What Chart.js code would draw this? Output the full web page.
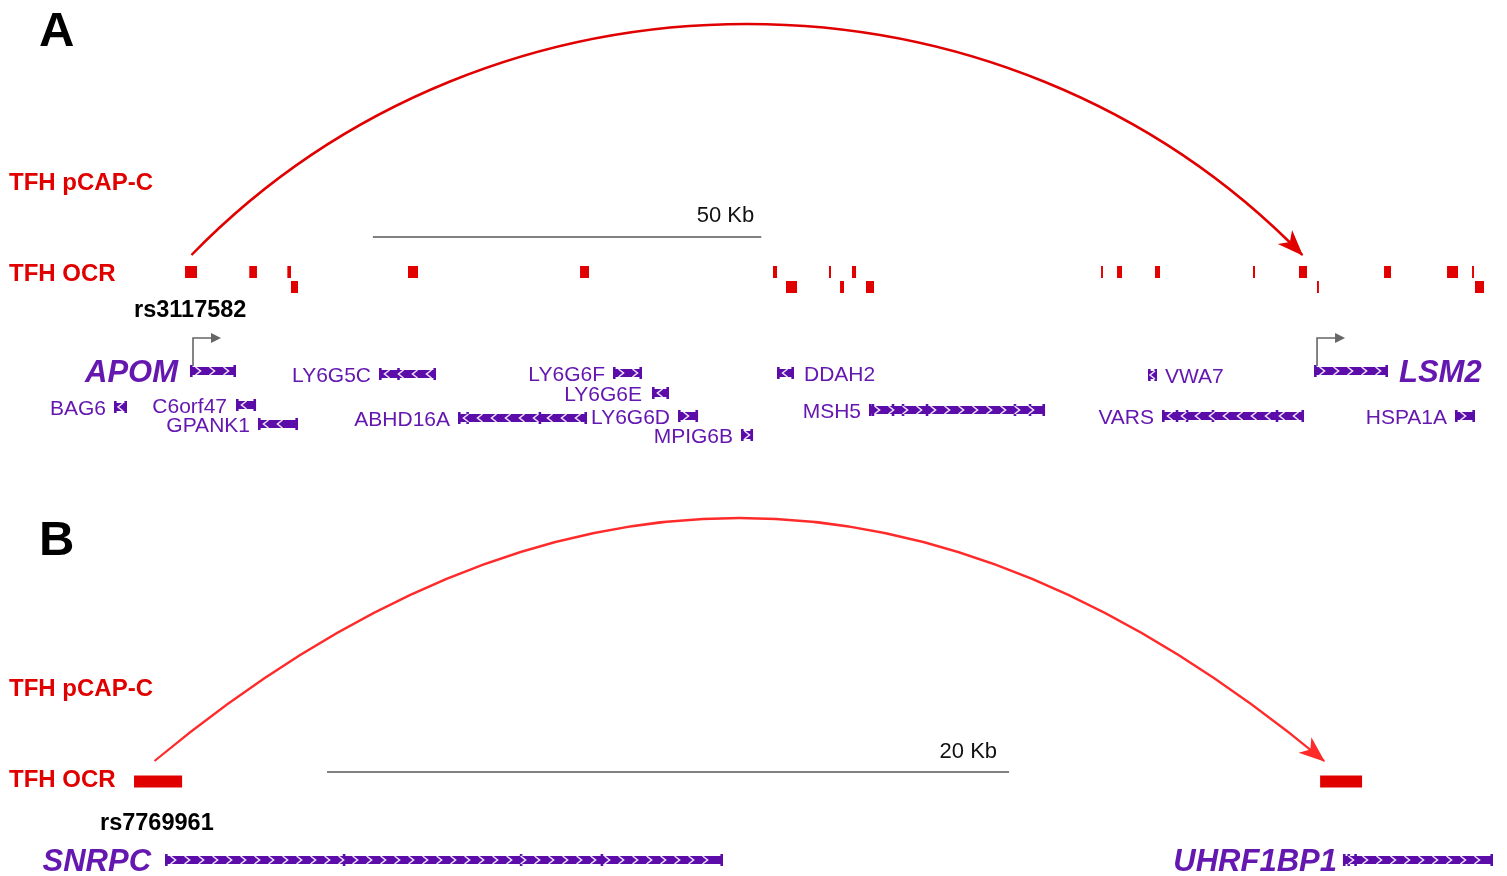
<!DOCTYPE html>
<html>
<head>
<meta charset="utf-8">
<title>TFH pCAP-C loops</title>
<script src="https://cdn.jsdelivr.net/npm/chart.js@4/dist/chart.umd.min.js"></script>
<style>
  html, body { margin: 0; padding: 0; background: #ffffff; }
  #wrap { position: relative; width: 1507px; height: 876px; overflow: hidden; }
  canvas { position: absolute; left: 0; display: block; }
</style>
</head>
<body>
<div id="wrap">
  <canvas id="panelA" width="1507" height="470" style="top:0px"></canvas>
  <canvas id="panelB" width="1507" height="406" style="top:470px"></canvas>
</div>
<script>
// ---------------- Panel A: APOM → LSM2 (positions in kb from left edge of view) ----------------
const viewKbA = 194.0;

const ocrStartA = [23.82, 32.09, 36.99, 52.52, 74.67, 99.51, 106.72, 109.68, 141.74, 143.80, 148.69, 161.30, 167.22, 178.17, 186.28, 189.50,
                   37.46, 101.18, 108.14, 111.48, 169.54, 189.88];
const ocrEndA   = [25.36, 33.08, 37.46, 53.81, 75.82, 100.03, 106.98, 110.20, 141.99, 144.44, 149.33, 161.56, 168.25, 179.07, 187.69, 189.75,
                   38.36, 102.60, 108.65, 112.51, 169.79, 191.04];
const ocrLaneA  = [0, 0, 0, 0, 0, 0, 0, 0, 0, 0, 0, 0, 0, 0, 0, 0,
                   1, 1, 1, 1, 1, 1];

const geneNamesA  = ['BAG6', 'APOM', 'C6orf47', 'GPANK1', 'LY6G5C', 'ABHD16A', 'LY6G6F', 'LY6G6E',
                     'LY6G6D', 'MPIG6B', 'DDAH2', 'MSH5', 'VWA7', 'VARS', 'LSM2', 'HSPA1A'];
const geneStartA  = [14.68, 24.46, 30.38, 33.21, 48.79, 58.96, 78.91, 83.93, 87.28, 95.39, 100.03, 111.87, 147.79, 149.59, 169.16, 187.31];
const geneEndA    = [16.35, 30.38, 32.96, 38.36, 56.13, 75.57, 82.65, 86.12, 89.86, 96.94, 102.21, 134.53, 148.94, 167.87, 178.68, 189.88];
const geneStrandA = ['-', '+', '-', '-', '-', '-', '+', '-', '+', '+', '-', '+', '-', '-', '+', '+'];

const exonGeneA = ['MSH5', 'MSH5', 'MSH5', 'MSH5', 'MSH5', 'MSH5', 'VARS', 'VARS', 'VARS', 'VARS', 'ABHD16A', 'ABHD16A', 'LY6G5C'];
const exonPosA  = [112.38, 114.96, 116.25, 119.34, 130.66, 132.60, 151.52, 152.81, 156.15, 164.39, 60.2, 69.5, 51.3];

const loopFromA = [24.65];
const loopToA   = [167.66];
const loopGenesA = ['APOM', 'LSM2'];
const snpA = 'rs3117582';
const scaleStartA = 48.0, scaleKbA = 50;

// ---------------- Panel B: SNRPC → UHRF1BP1 ----------------
const viewKbB = 44.19;

const ocrStartB = [3.93, 38.71];
const ocrEndB   = [5.34, 39.94];
const ocrLaneB  = [0, 0];

const geneNamesB  = ['SNRPC', 'UHRF1BP1'];
const geneStartB  = [4.84, 39.38];
const geneEndB    = [21.20, 43.78];
const geneStrandB = ['+', '+'];

const exonGeneB = ['SNRPC', 'SNRPC', 'SNRPC', 'UHRF1BP1', 'UHRF1BP1'];
const exonPosB  = [10.09, 15.28, 17.65, 39.55, 39.75];

const loopFromB = [4.53];
const loopToB   = [38.83];
const loopGenesB = ['SNRPC', 'UHRF1BP1'];
const snpB = 'rs7769961';
const scaleStartB = 9.59, scaleKbB = 20;

// ---------------- drawing styles / page layout ----------------
const FONT = "'Liberation Sans', Arial, Helvetica, sans-serif";
const PURPLE = '#5c0ca8';
const LABEL_PURPLE = '#6518b0';
const RED = '#e10000';

const layoutA = {
  yMin: 0, yMax: 470,
  letter: { text: 'A', x: 39, y: 46 },
  trackLabels: [{ text: 'TFH pCAP-C', y: 189.5 }, { text: 'TFH OCR', y: 280.5 }],
  snp: { x: 134, y: 316.5 },
  ocrLaneY: [272, 287],
  arc: { base: 255, rise: 231, bend: 0.27, color: '#e10000', width: 2.5 },
  scaleBarY: 237, scaleLabelY: 221.5, scaleLabelGap: 7,
  geneY: { BAG6: 407, APOM: 371, C6orf47: 405, GPANK1: 424, LY6G5C: 374, ABHD16A: 418, LY6G6F: 373, LY6G6E: 393,
           LY6G6D: 416, MPIG6B: 435, DDAH2: 373, MSH5: 410, VWA7: 375, VARS: 416, LSM2: 371, HSPA1A: 416 },
  labelRight: ['DDAH2', 'VWA7', 'LSM2'],
  labelGap: { APOM: 12, LSM2: 11, DDAH2: 10, C6orf47: 9, LY6G6E: 10 },
  tss: true
};

const layoutB = {
  yMin: 470, yMax: 876,
  letter: { text: 'B', x: 39, y: 555 },
  trackLabels: [{ text: 'TFH pCAP-C', y: 695.5 }, { text: 'TFH OCR', y: 786.5 }],
  snp: { x: 100, y: 829.5 },
  ocrLaneY: [781.5],
  arc: { base: 761, rise: 243, bend: 1 / 3, color: '#ff2a2a', width: 2.2 },
  scaleBarY: 772, scaleLabelY: 757.5, scaleLabelGap: 12,
  geneY: { SNRPC: 860, UHRF1BP1: 860 },
  labelRight: [],
  labelGap: { SNRPC: 14, UHRF1BP1: 6 },
  tss: false
};

// Loop arc from anchor to anchor with an arrowhead at the target end
function drawLoop(ctx, x0, x3, a) {
  const span = x3 - x0;
  const h = a.rise / 0.75;
  const c1x = x0 + a.bend * span, c2x = x3 - a.bend * span, cy = a.base - h;
  ctx.save();
  ctx.strokeStyle = a.color;
  ctx.fillStyle = a.color;
  ctx.lineWidth = a.width;
  ctx.lineCap = 'butt';
  ctx.beginPath();
  ctx.moveTo(x0, a.base);
  ctx.bezierCurveTo(c1x, cy, c2x, cy, x3, a.base);
  ctx.stroke();
  const ang = Math.atan2(a.base - cy, x3 - c2x);
  ctx.translate(x3, a.base);
  ctx.rotate(ang);
  ctx.beginPath();
  ctx.moveTo(1, 0);
  ctx.lineTo(-25, -10);
  ctx.lineTo(-18, 0);
  ctx.lineTo(-25, 10);
  ctx.closePath();
  ctx.fill();
  ctx.restore();
}

// Strand chevrons inside a gene body
function drawChevrons(ctx, a, b, y, strand) {
  ctx.save();
  ctx.strokeStyle = '#ece2fa';
  ctx.lineWidth = 1.6;
  const step = 14;
  const len = b - a;
  let positions = [];
  if (len < 16) positions = [(a + b) / 2];
  else for (let c = a + 8; c < b - 5; c += step) positions.push(c);
  const d = strand === '+' ? 1 : -1;
  positions.forEach(c => {
    ctx.beginPath();
    ctx.moveTo(c - 2.5 * d, y - 4);
    ctx.lineTo(c + 2.5 * d, y);
    ctx.lineTo(c - 2.5 * d, y + 4);
    ctx.stroke();
  });
  ctx.restore();
}

function trackPlugin(P) {
  return {
    id: 'tracks',
    afterDatasetDraw(chart, args) {
      if (args.index !== 1) return;
      const ctx = chart.ctx, xs = chart.scales.x, ys = chart.scales.y;
      P.genes.forEach((g, i) => {
        drawChevrons(ctx, xs.getPixelForValue(P.start[i]), xs.getPixelForValue(P.end[i]),
                     ys.getPixelForValue(P.layout.geneY[g]), P.strand[i]);
      });
    },
    afterDatasetsDraw(chart) {
      const ctx = chart.ctx, xs = chart.scales.x, ys = chart.scales.y;
      const L = P.layout;
      const py = v => ys.getPixelForValue(v);

      // pCAP-C loops
      P.loopFrom.forEach((f, i) => {
        drawLoop(ctx, xs.getPixelForValue(f), xs.getPixelForValue(P.loopTo[i]),
                 Object.assign({}, L.arc, { base: py(L.arc.base) }));
      });

      ctx.save();
      ctx.textBaseline = 'alphabetic';

      // panel letter
      ctx.fillStyle = '#000000';
      ctx.font = 'bold 49px ' + FONT;
      ctx.textAlign = 'left';
      ctx.fillText(L.letter.text, L.letter.x, py(L.letter.y));

      // track labels
      ctx.fillStyle = RED;
      ctx.font = 'bold 24px ' + FONT;
      L.trackLabels.forEach(t => ctx.fillText(t.text, 9, py(t.y)));

      // SNP label
      ctx.fillStyle = '#000000';
      ctx.font = 'bold 23.5px ' + FONT;
      ctx.fillText(P.snp, L.snp.x, py(L.snp.y));

      // scale bar label
      ctx.font = '22px ' + FONT;
      ctx.textAlign = 'right';
      ctx.fillStyle = '#111111';
      ctx.fillText(P.scaleKb + ' Kb', xs.getPixelForValue(P.scaleStart + P.scaleKb) - L.scaleLabelGap, py(L.scaleLabelY));

      // TSS arrows on the loop target genes
      if (L.tss) {
        ctx.strokeStyle = '#666666';
        ctx.fillStyle = '#666666';
        ctx.lineWidth = 1.6;
        P.genes.forEach((g, i) => {
          if (!P.loopGenes.includes(g) || P.strand[i] !== '+') return;
          const x = xs.getPixelForValue(P.start[i]) + 3;
          const y = py(L.geneY[g]);
          ctx.beginPath();
          ctx.moveTo(x, y - 5);
          ctx.lineTo(x, y - 33);
          ctx.lineTo(x + 20, y - 33);
          ctx.stroke();
          ctx.beginPath();
          ctx.moveTo(x + 28, y - 33);
          ctx.lineTo(x + 18, y - 38);
          ctx.lineTo(x + 18, y - 28);
          ctx.closePath();
          ctx.fill();
        });
      }

      // gene labels
      ctx.fillStyle = LABEL_PURPLE;
      P.genes.forEach((g, i) => {
        const big = P.loopGenes.includes(g);
        const size = big ? 31 : 21;
        ctx.font = (big ? 'italic bold ' : '') + size + 'px ' + FONT;
        const gap = L.labelGap[g] !== undefined ? L.labelGap[g] : 8;
        const y = py(L.geneY[g]) + size * 0.358;
        if (L.labelRight.includes(g)) {
          ctx.textAlign = 'left';
          ctx.fillText(g, xs.getPixelForValue(P.end[i]) + gap, y);
        } else {
          ctx.textAlign = 'right';
          ctx.fillText(g, xs.getPixelForValue(P.start[i]) - gap, y);
        }
      });
      ctx.restore();
    }
  };
}

function buildPanel(canvasId, P) {
  const canvas = document.getElementById(canvasId);
  const pxPerKb = canvas.width / P.xMax;
  const capKb = 2.6 / pxPerKb;
  const L = P.layout;

  const ocrData = P.ocrStart.map((s, i) => ({ x: [s, P.ocrEnd[i]], y: L.ocrLaneY[P.ocrLane[i]] }));
  const bodyData = P.genes.map((g, i) => ({ x: [P.start[i], P.end[i]], y: L.geneY[g] }));
  const exonData = [];
  P.genes.forEach((g, i) => {
    exonData.push({ x: [P.start[i], P.start[i] + capKb], y: L.geneY[g] });
    exonData.push({ x: [P.end[i] - capKb, P.end[i]], y: L.geneY[g] });
  });
  P.exonGene.forEach((g, k) => {
    exonData.push({ x: [P.exonPos[k] - capKb / 2, P.exonPos[k] + capKb / 2], y: L.geneY[g] });
  });
  const scaleData = [{ x: [P.scaleStart, P.scaleStart + P.scaleKb], y: L.scaleBarY }];

  return new Chart(canvas, {
    type: 'bar',
    data: {
      datasets: [
        { label: 'TFH OCR', data: ocrData, backgroundColor: RED, barThickness: 12 },
        { label: 'Genes', data: bodyData, backgroundColor: PURPLE, barThickness: 8 },
        { label: 'Exons', data: exonData, backgroundColor: PURPLE, barThickness: 12 },
        { label: 'Scale', data: scaleData, backgroundColor: '#808080', barThickness: 2 }
      ]
    },
    options: {
      indexAxis: 'y',
      responsive: false,
      animation: false,
      events: [],
      layout: { padding: 0 },
      datasets: { bar: { grouped: false, borderWidth: 0, inflateAmount: 0 } },
      scales: {
        x: { type: 'linear', min: 0, max: P.xMax, display: false },
        y: { type: 'linear', min: L.yMin, max: L.yMax, reverse: true, offset: false, display: false }
      },
      plugins: { legend: { display: false }, tooltip: { enabled: false } }
    },
    plugins: [trackPlugin(P)]
  });
}

buildPanel('panelA', {
  xMax: viewKbA, layout: layoutA,
  ocrStart: ocrStartA, ocrEnd: ocrEndA, ocrLane: ocrLaneA,
  genes: geneNamesA, start: geneStartA, end: geneEndA, strand: geneStrandA,
  exonGene: exonGeneA, exonPos: exonPosA,
  loopFrom: loopFromA, loopTo: loopToA, loopGenes: loopGenesA,
  snp: snpA, scaleStart: scaleStartA, scaleKb: scaleKbA
});

buildPanel('panelB', {
  xMax: viewKbB, layout: layoutB,
  ocrStart: ocrStartB, ocrEnd: ocrEndB, ocrLane: ocrLaneB,
  genes: geneNamesB, start: geneStartB, end: geneEndB, strand: geneStrandB,
  exonGene: exonGeneB, exonPos: exonPosB,
  loopFrom: loopFromB, loopTo: loopToB, loopGenes: loopGenesB,
  snp: snpB, scaleStart: scaleStartB, scaleKb: scaleKbB
});
</script>
</body>
</html>
